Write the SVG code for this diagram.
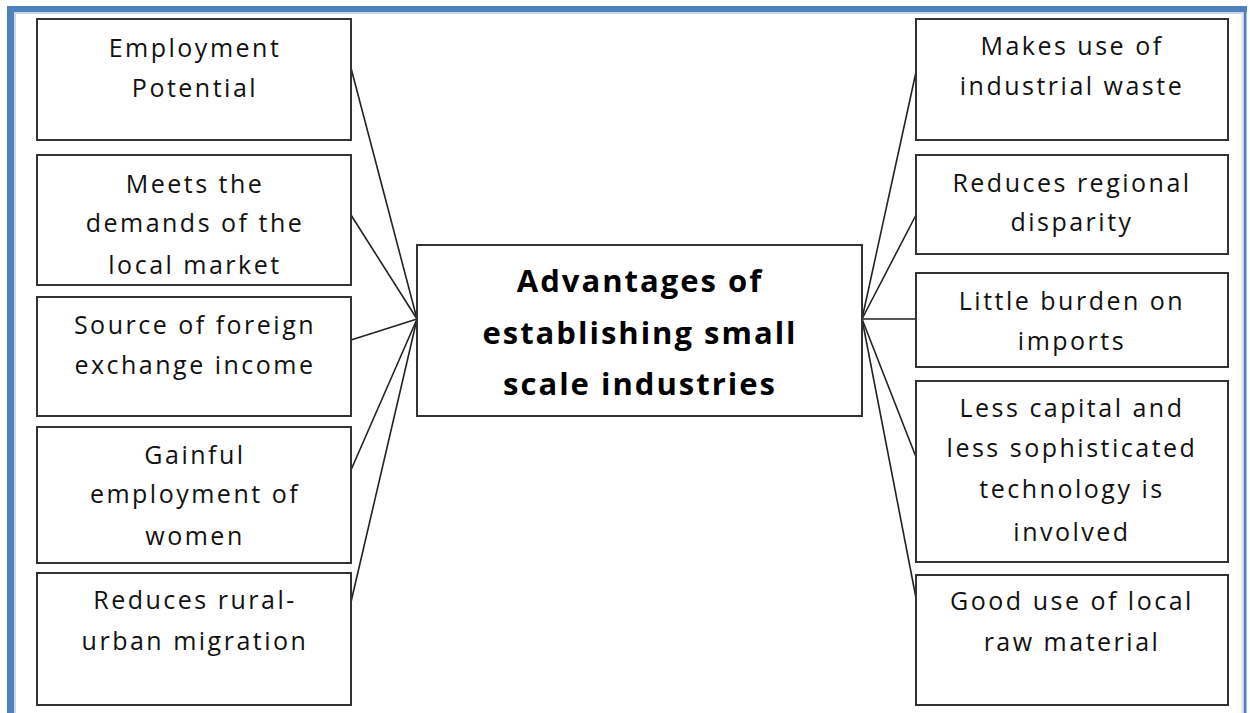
<svg xmlns="http://www.w3.org/2000/svg" width="1250" height="713" viewBox="0 0 1250 713">
<style>
.box{fill:#fff;stroke:#333;stroke-width:2}
.t{font-family:"Open Sans","Liberation Sans",sans-serif;font-size:25px;fill:#111;text-anchor:middle;letter-spacing:2.5px}
.b{font-family:"Open Sans","Liberation Sans",sans-serif;font-size:31px;font-weight:bold;fill:#000;text-anchor:middle;letter-spacing:2px}
.c{stroke:#222;stroke-width:1.6;fill:none}
</style>
<rect width="1250" height="713" fill="#fff"/>
<g id="frame">
<line x1="10.5" y1="9" x2="10.5" y2="713" stroke="#4F81BD" stroke-width="7"/>
<line x1="7" y1="9" x2="1247" y2="9" stroke="#4F81BD" stroke-width="6"/>
<line x1="1245" y1="6" x2="1245" y2="713" stroke="#4F81BD" stroke-width="3"/>
<line x1="14" y1="13" x2="1243" y2="13" stroke="#c9d8ec" stroke-width="2"/>
<line x1="15" y1="13" x2="15" y2="713" stroke="#c9d8ec" stroke-width="2"/>
<line x1="1242.5" y1="13" x2="1242.5" y2="713" stroke="#dbe5f2" stroke-width="2"/>
</g>
<g id="connectors">
<line class="c" x1="351" y1="68" x2="417" y2="319"/>
<line class="c" x1="351" y1="215" x2="417" y2="319"/>
<line class="c" x1="351" y1="340" x2="417" y2="319"/>
<line class="c" x1="351" y1="470" x2="417" y2="319"/>
<line class="c" x1="351" y1="602" x2="417" y2="319"/>
<line class="c" x1="916" y1="72" x2="862" y2="319"/>
<line class="c" x1="916" y1="215" x2="862" y2="319"/>
<line class="c" x1="916" y1="319" x2="862" y2="319"/>
<line class="c" x1="916" y1="457" x2="862" y2="319"/>
<line class="c" x1="916" y1="598" x2="862" y2="319"/>
</g>
<g id="center">
<rect class="box" x="417" y="245" width="445" height="171"/>
<text class="b" x="640" y="292">Advantages of</text>
<text class="b" x="640" y="344">establishing small</text>
<text class="b" x="640" y="395">scale industries</text>
</g>
<g id="l1">
<rect class="box" x="37" y="19" width="314" height="121"/>
<text class="t" x="195" y="57">Employment</text>
<text class="t" x="195" y="97">Potential</text>
</g>
<g id="l2">
<rect class="box" x="37" y="155" width="314" height="130"/>
<text class="t" x="195" y="193">Meets the</text>
<text class="t" x="195" y="232">demands of the</text>
<text class="t" x="195" y="274">local market</text>
</g>
<g id="l3">
<rect class="box" x="37" y="297" width="314" height="119"/>
<text class="t" x="195" y="334">Source of foreign</text>
<text class="t" x="195" y="374">exchange income</text>
</g>
<g id="l4">
<rect class="box" x="37" y="427" width="314" height="136"/>
<text class="t" x="195" y="464">Gainful</text>
<text class="t" x="195" y="503">employment of</text>
<text class="t" x="195" y="545">women</text>
</g>
<g id="l5">
<rect class="box" x="37" y="573" width="314" height="132"/>
<text class="t" x="195" y="609">Reduces rural-</text>
<text class="t" x="195" y="650">urban migration</text>
</g>
<g id="r1">
<rect class="box" x="916" y="19" width="312" height="121"/>
<text class="t" x="1072" y="55">Makes use of</text>
<text class="t" x="1072" y="95">industrial waste</text>
</g>
<g id="r2">
<rect class="box" x="916" y="155" width="312" height="99"/>
<text class="t" x="1072" y="192">Reduces regional</text>
<text class="t" x="1072" y="231">disparity</text>
</g>
<g id="r3">
<rect class="box" x="916" y="273" width="312" height="94"/>
<text class="t" x="1072" y="310">Little burden on</text>
<text class="t" x="1072" y="350">imports</text>
</g>
<g id="r4">
<rect class="box" x="916" y="381" width="312" height="181"/>
<text class="t" x="1072" y="417">Less capital and</text>
<text class="t" x="1072" y="457">less sophisticated</text>
<text class="t" x="1072" y="498">technology is</text>
<text class="t" x="1072" y="541">involved</text>
</g>
<g id="r5">
<rect class="box" x="916" y="575" width="312" height="130"/>
<text class="t" x="1072" y="610">Good use of local</text>
<text class="t" x="1072" y="651">raw material</text>
</g>
</svg>
